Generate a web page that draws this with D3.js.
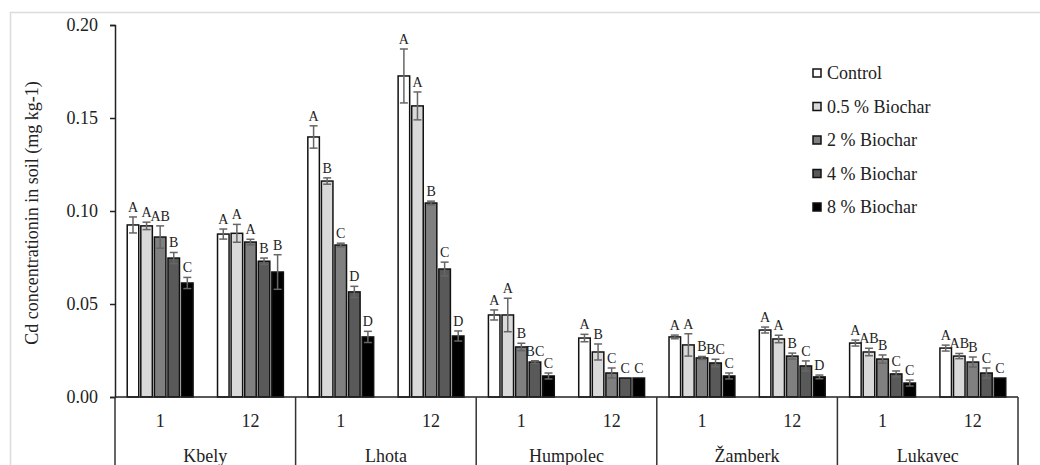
<!DOCTYPE html>
<html>
<head>
<meta charset="utf-8">
<script src="https://cdn.jsdelivr.net/npm/d3@7"></script>
<style>
body { margin: 0; background: #fff; }
svg text { font-family: "Liberation Serif", "DejaVu Serif", serif !important; fill: #222; }
</style>
</head>
<body>
<div id="chart"></div>
<script>
var sites = ['Kbely', 'Lhota', 'Humpolec', 'Žamberk', 'Lukavec'];
var times = ['1', '12'];
var seriesNames = ['Control', '0.5 % Biochar', '2 % Biochar', '4 % Biochar', '8 % Biochar'];
var yTicks = [0, 0.05, 0.10, 0.15, 0.20];

// values per series, order: Kbely 1, Kbely 12, Lhota 1, Lhota 12, ... Lukavec 12
var control    = [0.0925, 0.0876, 0.1398, 0.1726, 0.0441, 0.0317, 0.0323, 0.0360, 0.0290, 0.0263];
var biochar05  = [0.0920, 0.0880, 0.1161, 0.1565, 0.0441, 0.0242, 0.0280, 0.0312, 0.0242, 0.0220];
var biochar2   = [0.0860, 0.0833, 0.0817, 0.1043, 0.0269, 0.0129, 0.0210, 0.0220, 0.0204, 0.0188];
var biochar4   = [0.0747, 0.0730, 0.0565, 0.0688, 0.0188, 0.0102, 0.0183, 0.0167, 0.0124, 0.0129];
var biochar8   = [0.0613, 0.0672, 0.0323, 0.0328, 0.0113, 0.0102, 0.0113, 0.0108, 0.0075, 0.0102];

var controlErr   = [0.0043, 0.0027, 0.0060, 0.0145, 0.0027, 0.0020, 0.0010, 0.0016, 0.0016, 0.0016];
var biochar05Err = [0.0020, 0.0048, 0.0017, 0.0075, 0.0090, 0.0043, 0.0060, 0.0020, 0.0020, 0.0014];
var biochar2Err  = [0.0060, 0.0015, 0.0010, 0.0010, 0.0020, 0.0027, 0.0008, 0.0016, 0.0022, 0.0027];
var biochar4Err  = [0.0030, 0.0017, 0.0030, 0.0037, 0.0007, 0.0000, 0.0020, 0.0027, 0.0016, 0.0027];
var biochar8Err  = [0.0030, 0.0093, 0.0030, 0.0027, 0.0016, 0.0000, 0.0016, 0.0010, 0.0016, 0.0000];

var controlLet   = ['A', 'A', 'A', 'A', 'A', 'A', 'A', 'A', 'A', 'A'];
var biochar05Let = ['A', 'A', 'B', 'A', 'A', 'B', 'A', 'A', 'AB', 'AB'];
var biochar2Let  = ['AB', 'A', 'C', 'B', 'B', 'C', 'B', 'B', 'B', 'B'];
var biochar4Let  = ['B', 'B', 'D', 'C', 'BC', 'C', 'BC', 'C', 'C', 'C'];
var biochar8Let  = ['C', 'B', 'D', 'D', 'C', 'C', 'C', 'D', 'C', 'C'];

var colors = ['#ffffff', '#d9d9d9', '#808080', '#595959', '#000000'];

var values = [control, biochar05, biochar2, biochar4, biochar8];
var errs = [controlErr, biochar05Err, biochar2Err, biochar4Err, biochar8Err];
var lets = [controlLet, biochar05Let, biochar2Let, biochar4Let, biochar8Let];

var data = [];
sites.forEach(function (s, si) {
    times.forEach(function (t, ti) {
        seriesNames.forEach(function (n, ni) {
            var k = si * times.length + ti;
            data.push({ site: s, time: t, series: n, idx: ni,
                value: values[ni][k], err: errs[ni][k], letter: lets[ni][k] });
        });
    });
});

var FONT = '"Liberation Serif", "DejaVu Serif", serif';
var OuterWidth = 1040;
var OuterHeight = 465;
var margin = { left: 115, top: 25, right: 22, bottom: 68 };
var innerWidth = OuterWidth - margin.left - margin.right;
var innerHeight = OuterHeight - margin.top - margin.bottom;

var svg = d3.select('#chart').append('svg')
    .attr('width', OuterWidth)
    .attr('height', OuterHeight)
    .attr('font-family', FONT);

// light frame of the chart area
svg.append('path')
    .attr('d', 'M10.5,465V12.5H1040')
    .attr('fill', 'none')
    .attr('stroke', '#dcdcdc')
    .attr('stroke-width', 1.5);

var g = svg.append('g')
    .attr('transform', 'translate(' + margin.left + ',' + margin.top + ')');

var xSite = d3.scaleBand().domain(sites).range([0, innerWidth]);
var xTime = d3.scaleBand().domain(times).range([0, xSite.bandwidth()]);
var xSeries = d3.scaleBand().domain(seriesNames).range([0, xTime.bandwidth()])
    .paddingInner(0.15).paddingOuter(0.9);
var yScale = d3.scaleLinear().domain([0, 0.2]).range([innerHeight, 0]);

function xOf(d) { return xSite(d.site) + xTime(d.time) + xSeries(d.series); }

// y axis
var yAxis = d3.axisLeft(yScale)
    .tickValues(yTicks)
    .tickSize(5)
    .tickPadding(12)
    .tickFormat(d3.format('.2f'));
var yAxisG = g.append('g').call(yAxis).attr('font-family', FONT).attr('font-size', 18);
yAxisG.select('.domain').attr('stroke', '#222').attr('stroke-width', 1.5);
yAxisG.selectAll('.tick line').attr('stroke', '#222').attr('stroke-width', 1.5);
yAxisG.selectAll('.tick text').attr('fill', '#222');

// bars
g.selectAll('.bar')
    .data(data)
    .enter()
    .append('rect')
    .attr('class', 'bar')
    .attr('x', xOf)
    .attr('y', function (d) { return yScale(d.value); })
    .attr('width', xSeries.bandwidth())
    .attr('height', function (d) { return innerHeight - yScale(d.value); })
    .attr('fill', function (d) { return colors[d.idx]; })
    .attr('stroke', '#111')
    .attr('stroke-width', 1.5);

// error bars
var eb = g.selectAll('.err')
    .data(data.filter(function (d) { return d.err > 0; }))
    .enter()
    .append('g')
    .attr('class', 'err')
    .attr('stroke', '#666')
    .attr('stroke-width', 1.5);
eb.append('line')
    .attr('x1', function (d) { return xOf(d) + xSeries.bandwidth() / 2; })
    .attr('x2', function (d) { return xOf(d) + xSeries.bandwidth() / 2; })
    .attr('y1', function (d) { return yScale(d.value - d.err); })
    .attr('y2', function (d) { return yScale(d.value + d.err); });
[1, -1].forEach(function (sgn) {
    eb.append('line')
        .attr('x1', function (d) { return xOf(d) + xSeries.bandwidth() / 2 - 4; })
        .attr('x2', function (d) { return xOf(d) + xSeries.bandwidth() / 2 + 4; })
        .attr('y1', function (d) { return yScale(d.value + sgn * d.err); })
        .attr('y2', function (d) { return yScale(d.value + sgn * d.err); });
});

// significance letters
g.selectAll('.label')
    .data(data)
    .enter()
    .append('text')
    .attr('class', 'label')
    .attr('x', function (d) { return xOf(d) + xSeries.bandwidth() / 2; })
    .attr('y', function (d) { return yScale(d.value + d.err) - 5; })
    .attr('text-anchor', 'middle')
    .attr('font-size', 14)
    .text(function (d) { return d.letter; });

// x axis line
g.append('line')
    .attr('x1', 0).attr('x2', innerWidth)
    .attr('y1', innerHeight).attr('y2', innerHeight)
    .attr('stroke', '#222').attr('stroke-width', 1.5);

// dividers between sites
var bounds = sites.map(function (s) { return xSite(s); }).concat([innerWidth]);
g.selectAll('.div')
    .data(bounds)
    .enter()
    .append('line')
    .attr('x1', function (d) { return d; })
    .attr('x2', function (d) { return d; })
    .attr('y1', innerHeight)
    .attr('y2', OuterHeight - margin.top)
    .attr('stroke', '#333').attr('stroke-width', 1.5);

// time labels
var timeLabels = [];
sites.forEach(function (s) { times.forEach(function (t) { timeLabels.push({ site: s, time: t }); }); });
g.selectAll('.tlab')
    .data(timeLabels)
    .enter()
    .append('text')
    .attr('x', function (d) { return xSite(d.site) + xTime(d.time) + xTime.bandwidth() / 2; })
    .attr('y', innerHeight + 30)
    .attr('text-anchor', 'middle')
    .attr('font-size', 18)
    .text(function (d) { return d.time; });

// site labels
g.selectAll('.slab')
    .data(sites)
    .enter()
    .append('text')
    .attr('x', function (d) { return xSite(d) + xSite.bandwidth() / 2; })
    .attr('y', innerHeight + 65)
    .attr('text-anchor', 'middle')
    .attr('font-size', 18)
    .text(function (d) { return d; });

// y title
svg.append('text')
    .attr('transform', 'translate(38,213) rotate(-90)')
    .attr('text-anchor', 'middle')
    .attr('font-size', 18)
    .text('Cd concentrationin in soil (mg kg-1)');

// legend
var legend = svg.append('g').attr('transform', 'translate(813,73)');
var li = legend.selectAll('.leg')
    .data(seriesNames)
    .enter()
    .append('g')
    .attr('transform', function (d, i) { return 'translate(0,' + (i * 33.5) + ')'; });
li.append('rect')
    .attr('x', 0).attr('y', -4)
    .attr('width', 8).attr('height', 8)
    .attr('fill', function (d, i) { return colors[i]; })
    .attr('stroke', '#111').attr('stroke-width', 1.5);
li.append('text')
    .attr('x', 14).attr('y', 6)
    .attr('font-size', 18)
    .text(function (d) { return d; });
</script>
</body>
</html>
